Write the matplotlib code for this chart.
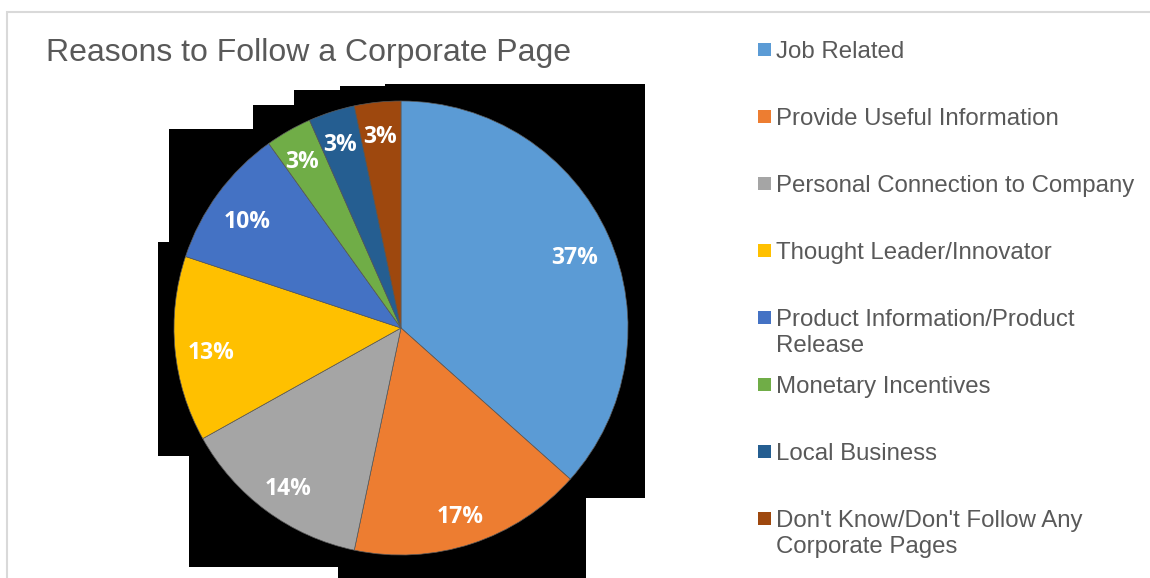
import textwrap
import matplotlib
matplotlib.use("Agg")
import matplotlib.pyplot as plt
from matplotlib.patches import Polygon, Rectangle

# chart data
categories = ["Job Related", "Provide Useful Information", "Personal Connection to Company",
              "Thought Leader/Innovator", "Product Information/Product Release",
              "Monetary Incentives", "Local Business",
              "Don't Know/Don't Follow Any Corporate Pages"]
shares = [36.6, 16.7, 13.6, 13.2, 10.0, 3.3, 3.3, 3.3]
colors = ["#5B9BD5", "#ED7D31", "#A5A5A5", "#FFC000", "#4472C4", "#70AD47", "#255E91", "#9E480E"]
title = "Reasons to Follow a Corporate Page"

W, H = 1150, 578
fig = plt.figure(figsize=(W / 100, H / 100), dpi=100)

# background layer in pixel coordinates (frame + the black blotch behind the pie)
bg = fig.add_axes([0, 0, 1, 1], zorder=0)
bg.set_xlim(0, W)
bg.set_ylim(H, 0)
bg.axis("off")
bg.plot([7, 7, W], [H, 12, 12], color="#d9d9d9", lw=1.5, solid_joinstyle="miter")
blotch = [(385, 84), (645, 84), (645, 498), (586, 498), (586, 578), (338, 578), (338, 567),
          (189, 567), (189, 456), (158, 456), (158, 242), (169, 242), (169, 129), (253, 129),
          (253, 105), (294, 105), (294, 90), (340, 90), (340, 86), (385, 86)]
bg.add_patch(Polygon(blotch, closed=True, facecolor="black", edgecolor="none"))

bg.text(46, 61, title, fontsize=23, color="#595959", family="Liberation Sans", va="baseline")

# pie, centred at (401, 328) px with radius 227 px
cx, cy, r = 401, 328, 227
ax = fig.add_axes([(cx - r) / W, (H - cy - r) / H, 2 * r / W, 2 * r / H], zorder=1)
wedges, _, autotexts = ax.pie(
    shares, colors=colors, startangle=90, counterclock=False, radius=1,
    autopct=lambda p: f"{p:.0f}%", pctdistance=0.84,
    wedgeprops=dict(edgecolor="#5a5a5a", linewidth=0.5),
    textprops=dict(color="white", fontsize=16.5, fontweight="bold", family="Open Sans"))
for t, s in zip(autotexts, shares):
    t.set_va("center_baseline")
    x, y = t.get_position()
    if s < 5:
        # thin slices: label sits closer to the rim
        x, y = x * 0.88 / 0.84, y * 0.88 / 0.84
    t.set_position((x, y - 0.02))
ax.set_xlim(-1, 1)
ax.set_ylim(-1, 1)
ax.axis("off")

# legend on the right, one row every 67 px
leg_x, leg_y0, leg_dy = 758, 49, 67
for i, (name, col) in enumerate(zip(categories, colors)):
    yc = leg_y0 + i * leg_dy
    bg.add_patch(Rectangle((leg_x, yc - 6.5), 13, 13, facecolor=col, edgecolor="none"))
    bg.text(leg_x + 18, yc - 8, textwrap.fill(name, 30), fontsize=17.3, color="#595959",
            family="Liberation Sans", va="top", ha="left", linespacing=1.24)

fig.savefig("out.png", dpi=100)
